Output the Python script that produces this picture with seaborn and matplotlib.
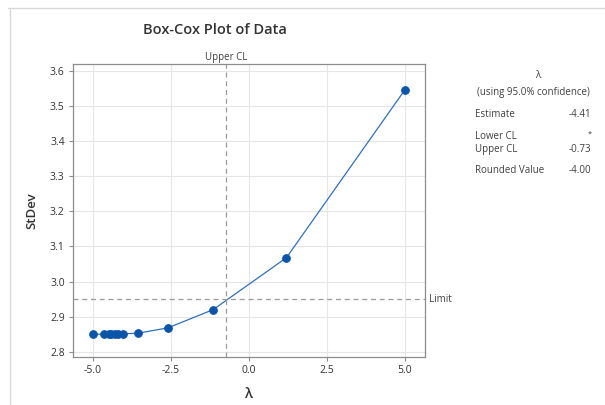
import matplotlib
matplotlib.use("Agg")
import matplotlib.pyplot as plt
import seaborn as sns
import pandas as pd

# lambda grid and the StDev
lam = [-5.0, -4.65, -4.5, -4.41, -4.3, -4.2, -4.05, -3.55, -2.6, -1.15, 1.2, 5.0]
stdev = [2.850, 2.850, 2.850, 2.850, 2.850, 2.850, 2.851, 2.853, 2.868, 2.920, 3.068, 3.547]

upper_cl = -0.73
limit = 2.95

x_ticks = [-5.0, -2.5, 0.0, 2.5, 5.0]
y_ticks = [2.8, 2.9, 3.0, 3.1, 3.2, 3.3, 3.4, 3.5, 3.6]

info_labels = ["Estimate", "Lower CL", "Upper CL", "Rounded Value"]
info_values = ["-4.41", "*", "-0.73", "-4.00"]

df = pd.DataFrame({"lam": lam, "stdev": stdev})

sns.set_style("white")
plt.rcParams['font.family'] = ['Open Sans', 'DejaVu Sans']
txt = "#404040"

fig = plt.figure(figsize=(6.05, 4.05), dpi=100)
ax = fig.add_axes([0.1207, 0.1185, 0.5818, 0.7235])

sns.lineplot(data=df, x="lam", y="stdev", ax=ax, color="#2f6fbf", linewidth=0.9,
             marker="o", markersize=5.5, markerfacecolor="#0b55a8", markeredgecolor="#0b55a8")

ax.axvline(upper_cl, color="#9a9a9a", linestyle=(0, (4, 3)), linewidth=0.9)
ax.axhline(limit, color="#9a9a9a", linestyle=(0, (4, 3)), linewidth=0.9)

ax.set_xlim(-5.64, 5.64)
ax.set_ylim(2.785, 3.62)
ax.set_xticks(x_ticks)
ax.set_xticklabels([f"{v:.1f}" for v in x_ticks])
ax.set_yticks(y_ticks)
ax.set_yticklabels([f"{v:.1f}" for v in y_ticks])
ax.grid(True, color="#e6e6e6", linewidth=0.8)
ax.set_axisbelow(True)
for s in ax.spines.values():
    s.set_color("#8c8c8c")
    s.set_linewidth(0.9)
ax.tick_params(axis="both", labelsize=7.5, colors="#8c8c8c", labelcolor="#333333",
               length=3, width=0.8, direction="out", bottom=True, left=True, pad=3)

ax.set_xlabel("λ", fontsize=10, color="#333333", labelpad=8, fontweight="semibold")
ax.set_ylabel("StDev", fontsize=9.5, color="#333333", labelpad=8, fontweight="semibold")

ax.text(upper_cl, 1.005, "Upper CL", transform=ax.get_xaxis_transform(),
        ha="center", va="bottom", fontsize=7, color=txt)
ax.text(1.01, limit, "Limit", transform=ax.get_yaxis_transform(),
        ha="left", va="center", fontsize=7, color=txt)

fig.text(0.356, 0.925, "Box-Cox Plot of Data", ha="center", va="center",
         fontsize=10.5, color="#333333", fontweight="semibold")

# side panel
fig.text(0.888, 0.814, "λ", ha="center", va="center", fontsize=7, color=txt)
fig.text(0.882, 0.771, "(using 95.0% confidence)", ha="center", va="center", fontsize=7, color=txt)
ys = [0.718, 0.662, 0.630, 0.578]
for lab, val, yy in zip(info_labels, info_values, ys):
    fig.text(0.785, yy, lab, ha="left", va="center", fontsize=7, color=txt)
    if val == "*":
        fig.text(0.978, yy + 0.006, val, ha="right", va="center", fontsize=5.5, color=txt)
    else:
        fig.text(0.978, yy, val, ha="right", va="center", fontsize=7, color=txt)

# frame of the pasted graph
fig.add_artist(plt.Line2D([0.014, 1.0], [0.980, 0.980], color="#d9d9d9", linewidth=1))
fig.add_artist(plt.Line2D([0.017, 0.017], [0.0, 0.980], color="#d9d9d9", linewidth=1))

fig.savefig("out.png", dpi=100)
